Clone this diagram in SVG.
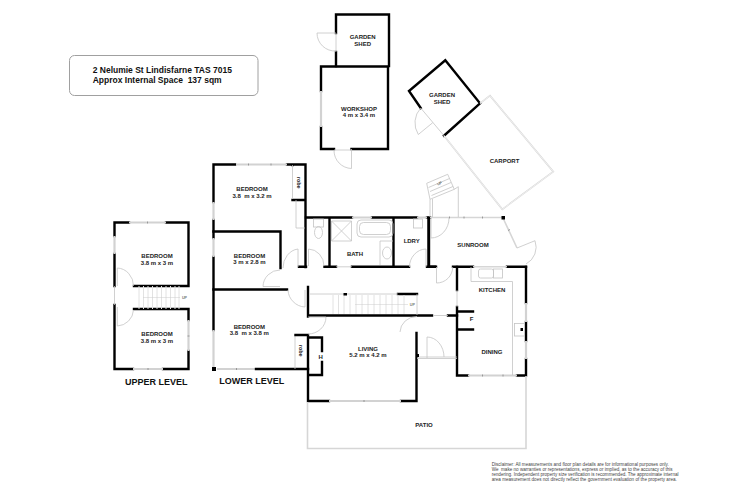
<svg xmlns="http://www.w3.org/2000/svg" width="750" height="500" viewBox="0 0 750 500">
<style>
text{font-family:"Liberation Sans",Arial,sans-serif;fill:#222}
.l{font-size:6px;font-weight:bold;text-anchor:middle}
.t{font-size:8.5px;font-weight:bold;fill:#111}
.h{font-size:9px;font-weight:bold;fill:#111}
.d{font-size:4.6px;fill:#444}
.u{font-size:3.6px;text-anchor:middle}
.w{fill:none;stroke:#000;stroke-width:2.4;stroke-linecap:square}
.g{fill:none;stroke:#c4c4c4;stroke-width:.8}
.n{fill:none;stroke:#d2d2d2;stroke-width:2.2}
.f{fill:none;stroke:#d6d6d6;stroke-width:1.6}
.k{fill:none;stroke:#e2e2e2;stroke-width:1}
.m{fill:none;stroke:#888;stroke-width:.8}
</style>
<rect width="750" height="500" fill="#fff"/>

<g id="title">
<rect x="69.5" y="55.5" width="188.500" height="40" rx="5" fill="none" stroke="#a0a0a0" stroke-width="1"/>
<text class="t" x="92.700" y="72.500">2 Nelumie St Lindisfarne TAS 7015</text>
<text class="t" x="92.700" y="82.700" xml:space="preserve">Approx Internal Space  137 sqm</text>
</g>

<g id="garden-shed-1">
<path class="w" d="M336 33V14.500H389V66M336 52V66"/>
<path class="g" d="M336 33H317A18 18 0 0 0 336 51M336 33V52"/>
<text class="l" x="362.700" y="39">GARDEN</text><text class="l" x="362.700" y="46">SHED</text>
</g>

<g id="workshop">
<path class="w" d="M321 91V66.500H388V149H351.500M334 149H321V127"/>
<path class="n" d="M321 91V127"/>
<path class="g" d="M334 150.500A18 18 0 0 0 351.500 168.500V149M334 150H351"/>
<text class="l" x="359" y="110.500">WORKSHOP</text><text class="l" x="359" y="117">4 m x 3.4 m</text>
</g>

<g id="garden-shed-2">
<path class="w" d="M420.700 108L409 91L445.300 60.300L480 103.300L444 135.700"/>
<path class="g" d="M420.700 108L444 135.700M420.700 108A22 22 0 0 0 418.300 134.500L432.700 122.700"/>
<text class="l" x="442" y="96.700">GARDEN</text><text class="l" x="442" y="103.500">SHED</text>
</g>

<g id="carport">
<path class="f" d="M444 135.700L502.300 209.300L553.300 171.700L490 95.700L480 103.300"/>
<path d="M444 135.700L502.300 209.300L553.300 171.700L490 95.700L480 103.300" fill="none" stroke="#fff" stroke-width=".6"/>
<text class="l" x="504.500" y="163">CARPORT</text>
</g>

<g id="upper-level">
<path class="w" d="M129 222.500H114.500V236M114.500 254V286M114.500 305V369H133M163 369H188.500V351M188.500 320V309H134M166 222.500H188.500V286H134"/>
<path class="n" d="M129 222.500H166M114.500 236V254M188.500 320V351M133 369H163"/>
<path class="m" d="M147.500 221.500V223.500M148 368V370M187.500 336H189.500"/>
<path class="g" d="M114.500 286V305M117.300 268V286M117.300 268A17 18 0 0 1 133.500 286M117.300 326V307M117.300 326A17 17 0 0 0 133.500 310"/>
<path class="k" d="M139 286V309M143.500 286V309M148 286V309M152.500 286V309M157 286V309M161.500 286V309M166 286V309M170.500 286V309M175 286V309M179 286V309"/>
<path d="M143 297.500H180" fill="none" stroke="#ccc" stroke-width=".5"/>
<text class="u" x="184.500" y="299">UP</text>
<text class="l" x="157" y="258.300">BEDROOM</text><text class="l" x="157" y="265">3.8 m x 3 m</text>
<text class="l" x="157" y="336">BEDROOM</text><text class="l" x="157" y="342.700">3.8 m x 3 m</text>
<text class="h" x="125" y="385">UPPER LEVEL</text>
</g>

<g id="lower-level-west">
<path class="w" d="M235 164.500H213.500V202M213.500 220V238M213.500 257V330M287 164.500H305.500V267M292.500 164.500V165M292.500 200H305.500"/>
<path class="n" d="M236 164.500H287M213.500 202V220M213.500 238V257M213.500 330V369M217 369H256"/>
<path class="m" d="M248.500 163.500V165.500M271 163.500V165.500M236.500 368V370"/>
<path class="w" d="M213.500 231.500H280.500V268M213.500 289.500H287M256 369H308M299 266.800H306"/>
<rect x="212" y="367" width="4" height="4"/>
<path class="g" d="M292.500 165V199M296 200V228H305M298 249V267M283 268A17 19 0 0 1 298 249M263 286.500H280M263 286.500A17 17 0 0 1 280 270M305 290V307M288 290A18 18 0 0 0 305 307"/>
<path class="g" d="M295 335V369"/>
<text class="l" x="252" y="190.700">BEDROOM</text><text class="l" x="252" y="197.500" xml:space="preserve">3.8  m x 3.2 m</text>
<text class="l" x="249.500" y="257.500">BEDROOM</text><text class="l" x="249.500" y="264">3 m x 2.8 m</text>
<text class="l" x="249.300" y="328.700">BEDROOM</text><text class="l" x="249.300" y="335" xml:space="preserve">3.8  m x 3.8 m</text>
<text class="l" style="font-size:5.500px" transform="translate(296.500 182.700) rotate(90)">robe</text>
<text class="l" style="font-size:5.500px" transform="translate(299 350.700) rotate(90)">robe</text>
<text class="h" x="219.300" y="383.500">LOWER LEVEL</text>
</g>

<g id="wet-areas">
<path class="w" d="M306 217.500H352M372 217.500H417M427 217.500H430M329.500 217.500V266.800M324.500 266.800H336M352 266.800H409M393.500 217.500V266.800M427 266.800H435M429 217.500V266.800"/>
<path class="n" d="M352 217.500H372M417 217.500H427"/>
<path class="g" d="M336 266.800H352M308.500 249V266M308.500 249A16 17 0 0 1 324 266M426 249V267M426 249A17 18 0 0 0 409.500 267"/>
<rect class="g" x="313.500" y="219" width="10" height="8"/>
<ellipse class="g" cx="318.500" cy="232.500" rx="4" ry="6"/>
<path class="g" d="M331.500 221H351.500V241H331.500ZM331.500 221L351.500 241M351.500 221L331.500 241"/>
<rect class="g" x="357" y="220" width="36" height="17" rx="4"/>
<rect class="g" x="359.500" y="222.500" width="31" height="12" rx="4"/>
<path class="g" d="M393 241H380V265"/>
<ellipse class="g" cx="387" cy="253" rx="4.500" ry="6"/>
<rect class="g" x="413.500" y="219" width="9" height="9"/>
<text class="l" x="355" y="255.700">BATH</text>
<text class="l" x="411.700" y="243">LDRY</text>
</g>

<g id="sunroom">
<path class="f" d="M430 217.500H503M503 218L517 248"/>
<path class="m" d="M449.500 216.500V218.500M464 216.500V218.500M482.500 216.500V218.500M508 230.500L510 229.500"/>
<path class="w" d="M428.500 218V266.800H436M453 266.800H473M507 266.800H526"/>
<rect x="501.500" y="216" width="3.500" height="3.500"/>
<path class="f" d="M473 266.800H507"/>
<path class="g" d="M431 218V238M431 238A18 20 0 0 0 449 218M436.500 267V283M436.500 283A16 16 0 0 0 452.700 267M517 248L535 240.700M535 240.700A19 19 0 0 1 526 264"/>
<path class="g" d="M426.700 183.300L447.700 174.300L454.300 189.300L430 199.300ZM428.500 187.500L449.500 178.500M430 191.500L451 182.500M431.500 195.500L453 186.500M430 199.300V217M458.300 186.700V217M454.300 189.300L458.300 186.700M432.500 199V217"/>
<text class="u" transform="translate(440 184.500) rotate(-23)">UP</text>
<text class="l" x="473" y="246.700">SUNROOM</text>
</g>

<g id="kitchen-dining">
<path class="w" d="M526 267V303M526 322V341M526 359V375.500H517M468 375.500H457V307M457 267V290M457 311.500H473M457 329.500H473"/>
<path class="n" d="M526 303V322M526 341V359M468 375.500H517"/>
<path class="m" d="M482.500 374.500V376.500M503 374.500V376.500"/>
<path class="g" d="M457 290V307M471 267V281.500H512.500V375"/>
<rect class="g" x="478.500" y="269" width="15" height="9" rx="2"/>
<rect class="g" x="493.500" y="269" width="9" height="9"/>
<rect class="g" x="514.500" y="323.500" width="10" height="12.500"/>
<rect x="520.500" y="328" width="2.500" height="3"/>
<text class="l" x="492" y="292">KITCHEN</text>
<text class="l" x="492" y="354.300">DINING</text>
<text class="l" x="471.700" y="321">F</text>
</g>

<g id="stairs">
<path class="w" d="M308 287V316.500M398 294H417M308 315.500H432M448 315.500H457"/>
<path class="g" d="M310 294H398M417 294V315M433 315.500H448"/>
<path class="k" d="M333 295V314M338.500 295V314M344 295V314M350 295V314M356 295V314M362 295V314M368 295V314M374 295V314M380 295V314M386 295V314M392 295V314M398 295V314M404 295V314"/>
<path d="M355 304.500H408" fill="none" stroke="#ccc" stroke-width=".5"/>
<rect x="343.500" y="293" width="3.500" height="2.500"/>
<text class="u" x="412.300" y="306">UP</text>
</g>

<g id="living">
<path class="w" d="M295.500 335H308M308 337.500H322V351M322 362V375H308M308 337V401H329M401 401H416.500V333"/>
<path class="n" d="M329 401H401"/>
<path class="m" d="M364 400V402"/>
<path class="g" d="M308 317H326M326 317A18 17 0 0 1 308 334M400 332A17 16 0 0 1 417 316.500M417 357H457M417 358.500H457M427 337V358M427 337A17 20 0 0 1 444 357"/>
<rect x="416" y="354" width="3" height="3"/>
<text class="l" x="368" y="350.700">LIVING</text><text class="l" x="368" y="357.300">5.2 m x 4.2 m</text>
<text class="l" x="320.700" y="359.300">H</text>
</g>

<g id="patio">
<path class="f" d="M307.500 402V448.500H526V376"/>
<text class="l" x="424" y="426.700">PATIO</text>
</g>

<g id="disclaimer">
<text class="d" x="491.700" y="465.500">Disclaimer: All measurements and floor plan details are for informational purposes only.</text>
<text class="d" x="491.700" y="470.800" xml:space="preserve">We  make no warranties or representations, express or implied, as to the accuracy of this</text>
<text class="d" x="491.700" y="476">rendering. Independent property size verification is recommended. The approximate internal</text>
<text class="d" x="491.700" y="481">area measurement does not directly reflect the government evaluation of the property area.</text>
</g>
</svg>
